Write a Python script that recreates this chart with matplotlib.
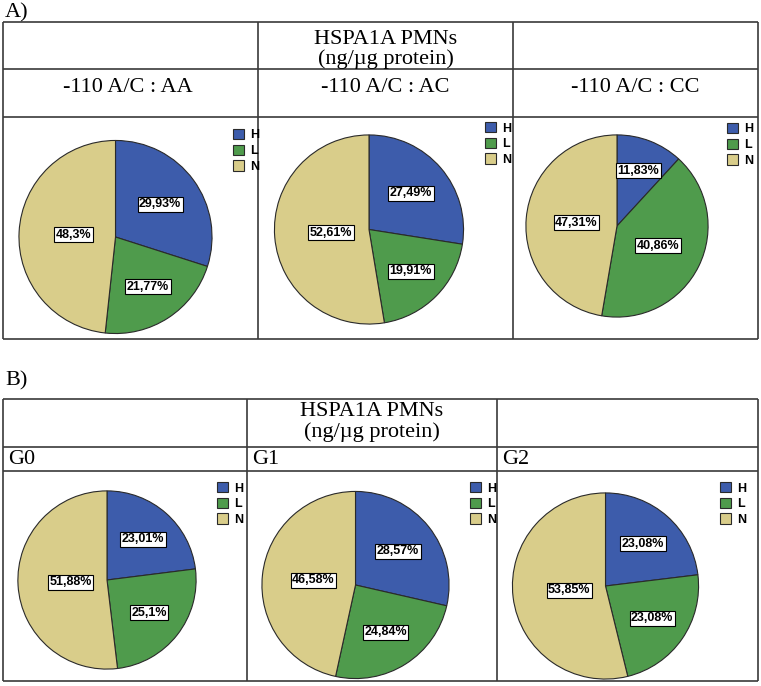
import matplotlib
matplotlib.use("Agg")
import matplotlib.pyplot as plt
import numpy as np

# ---------------- data ----------------
categories = ["H", "L", "N"]
panel_a_titles = ["-110 A/C : AA", "-110 A/C : AC", "-110 A/C : CC"]
panel_a_aa = [29.93, 21.77, 48.3]
panel_a_ac = [27.49, 19.91, 52.61]
panel_a_cc = [11.83, 40.86, 47.31]
panel_b_titles = ["G0", "G1", "G2"]
panel_b_g0 = [23.01, 25.1, 51.88]
panel_b_g1 = [28.57, 24.84, 46.58]
panel_b_g2 = [23.08, 23.08, 53.85]
header_line1 = "HSPA1A PMNs"
header_line2 = "(ng/\u00b5g protein)"

colors = ["#3d5cab", "#4f9b4c", "#d9cd8a"]

W, H = 761, 686
fig = plt.figure(figsize=(W / 100, H / 100), dpi=100)
fig.patch.set_facecolor("white")

# full-figure pixel axes for table lines and text
base = fig.add_axes([0, 0, 1, 1])
base.set_xlim(0, W)
base.set_ylim(H, 0)
base.axis("off")

SERIF = ["Liberation Serif", "DejaVu Serif"]
SANS = ["Liberation Sans", "DejaVu Sans"]
LC = "#3a3a3a"
LW = 1.2
FS = 16


def hline(y, x0, x1):
    base.plot([x0, x1], [y, y], color=LC, lw=LW, solid_capstyle="butt")


def vline(x, y0, y1):
    base.plot([x, x], [y0, y1], color=LC, lw=LW, solid_capstyle="butt")


# ---- Panel A table ----
L, R = 3, 758
aT, a1, a2, aB = 22, 69, 117, 339
for y in (aT, a1, a2, aB):
    hline(y, L, R)
for x in (L, 258, 513, R):
    vline(x, aT, aB)
base.text(5, 13, "A)", family=SERIF, fontsize=FS, ha="left", va="center")
base.text(385.5, 40, header_line1, family=SERIF, fontsize=FS, ha="center", va="center")
base.text(385.5, 59, header_line2, family=SERIF, fontsize=FS, ha="center", va="center")
for cx, t in zip([128, 385.5, 635.5], panel_a_titles):
    base.text(cx, 87, t, family=SERIF, fontsize=FS, ha="center", va="center")

# ---- Panel B table ----
bT, b1, b2, bB = 399, 447, 471, 681
for y in (bT, b1, b2, bB):
    hline(y, L, R)
for x in (L, 247, 497, R):
    vline(x, bT, bB)
base.text(5, 381, "B)", family=SERIF, fontsize=FS, ha="left", va="center")
base.text(372, 412, header_line1, family=SERIF, fontsize=FS, ha="center", va="center")
base.text(372, 432, header_line2, family=SERIF, fontsize=FS, ha="center", va="center")
for x0, t in zip([8, 252, 502], panel_b_titles):
    base.text(x0, 460, t, family=SERIF, fontsize=FS, ha="left", va="center")


def fmt(v):
    return ("%g" % v).replace(".", ",") + "%"


def draw_pie(values, cx, cy, r, leg_x, leg_y):
    ax = fig.add_axes([(cx - r) / W, 1 - (cy + r) / H, 2 * r / W, 2 * r / H])
    wedges, _ = ax.pie(values, colors=colors, startangle=90, counterclock=False,
                       radius=1.0,
                       wedgeprops=dict(edgecolor="#2a2a2a", linewidth=0.8))
    ax.set_xlim(-1.01, 1.01)
    ax.set_ylim(-1.01, 1.01)
    ax.set_aspect("equal")
    ax.axis("off")
    for w, v in zip(wedges, values):
        t1, t2 = w.theta1, w.theta2
        mid = np.radians((t1 + t2) / 2)
        th = np.radians(t2 - t1)
        d = 4 * np.sin(th / 2) / (3 * th)
        ax.text(d * np.cos(mid), d * np.sin(mid), fmt(v), ha="center", va="center",
                family=SANS, fontsize=9, fontweight="bold",
                bbox=dict(boxstyle="square,pad=0.12", fc="white", ec="black", lw=0.8))
    leg = ax.legend(wedges, categories, loc="upper left",
                    bbox_to_anchor=(leg_x / W, 1 - leg_y / H),
                    bbox_transform=fig.transFigure, frameon=False,
                    prop=dict(family=SANS, size=9, weight="bold"),
                    handlelength=0.9, handleheight=0.9, handletextpad=0.45,
                    labelspacing=0.25, borderpad=0, borderaxespad=0)
    for h in leg.legend_handles:
        h.set_edgecolor("#2a2a2a")
        h.set_linewidth(0.8)
    return ax


draw_pie(panel_a_aa, 115.5, 237, 97.5, 233, 129)
draw_pie(panel_a_ac, 369, 229.5, 95.5, 485, 122)
draw_pie(panel_a_cc, 617, 226, 92, 727, 123)
draw_pie(panel_b_g0, 107, 580, 90, 217, 482)
draw_pie(panel_b_g1, 355.5, 585, 94.5, 470, 482)
draw_pie(panel_b_g2, 605.5, 586, 94, 720, 482)

fig.savefig("out.png", dpi=100, facecolor="white")
